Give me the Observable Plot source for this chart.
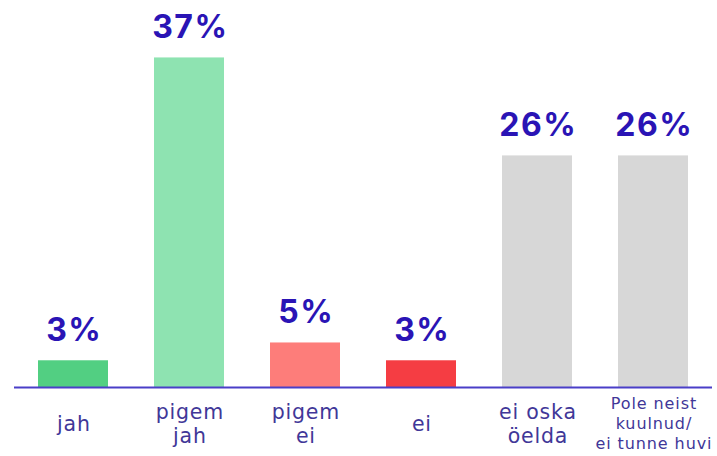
<!DOCTYPE html>
<html>
<head>
<meta charset="utf-8">
<script src="https://cdn.jsdelivr.net/npm/d3@7"></script>
<script src="https://cdn.jsdelivr.net/npm/@observablehq/plot@0.6"></script>
<style>
  html, body { margin: 0; padding: 0; background: #ffffff; }
  #chart svg { display: block; }
  .cat text { letter-spacing: 0.8px; }
  .catsmall text { letter-spacing: 0.9px; }
  .val text { letter-spacing: 1.5px; }
</style>
</head>
<body>
<div id="chart"></div>
<script>
const categories = ["jah", "pigem\njah", "pigem\nei", "ei", "ei oska\nöelda", "Pole neist\nkuulnud/\nei tunne huvi"];
const values = [3, 37, 5, 3, 26, 26];
const valueLabels = ["3%", "37%", "5%", "3%", "26%", "26%"];
const colors = ["#52cf82", "#8ee3b1", "#fd7d7a", "#f53d43", "#d7d7d7", "#d7d7d7"];

const data = categories.map((c, i) => ({cat: c, value: values[i], label: valueLabels[i], color: colors[i]}));
const small = data.filter(d => d.cat.split("\n").length > 2);
const normal = data.filter(d => d.cat.split("\n").length <= 2);

const chart = Plot.plot({
  width: 717,
  height: 456,
  marginLeft: 14,
  marginRight: 5,
  marginTop: 4,
  marginBottom: 69,
  x: {domain: categories, paddingInner: 0.4, paddingOuter: 0.2, axis: null},
  y: {domain: [0, 43], axis: null},
  style: {fontFamily: "Inter, 'Open Sans', sans-serif", background: "#ffffff"},
  marks: [
    Plot.barY(data, {x: "cat", y: "value", fill: d => d.color}),
    Plot.ruleY([0], {stroke: "#4a3fc8", strokeWidth: 2}),
    Plot.text(data, {x: "cat", y: "value", text: "label", dy: -30, dx: 0.75, fill: "#2a14b5",
      fontSize: 32, fontWeight: 700, fontFamily: "Inter, sans-serif", className: "val"}),
    Plot.text(normal, {x: "cat", y: 0, text: "cat", dy: 35.5, dx: 0.4, fill: "#413798",
      fontSize: 20.5, lineHeight: 1.17, fontFamily: "'DejaVu Sans', sans-serif", className: "cat"}),
    Plot.text(small, {x: "cat", y: 0, text: "cat", dy: 34.7, dx: 0.45, fill: "#413798",
      fontSize: 16, lineHeight: 1.25, fontFamily: "'DejaVu Sans', sans-serif", className: "catsmall"})
  ]
});
document.getElementById("chart").appendChild(chart);
</script>
</body>
</html>
